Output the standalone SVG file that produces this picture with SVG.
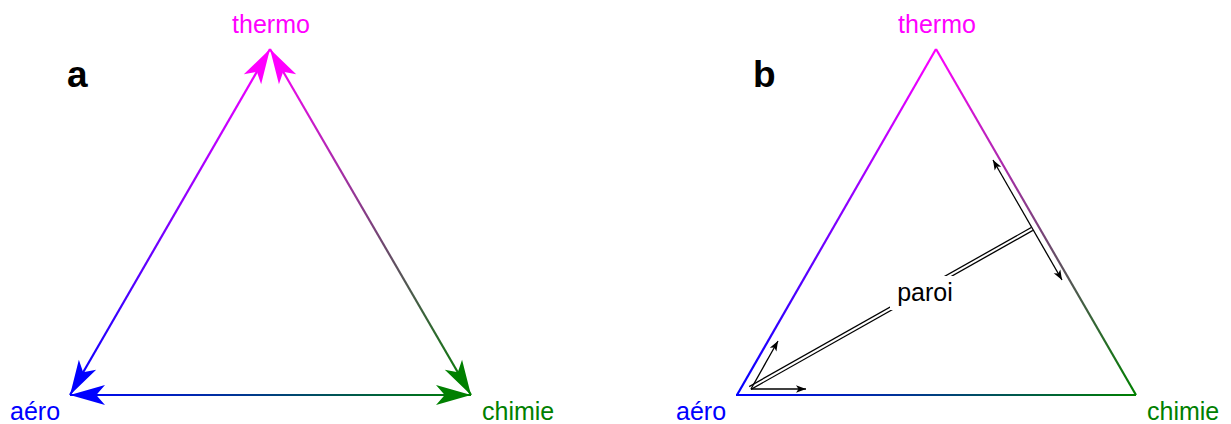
<svg xmlns="http://www.w3.org/2000/svg" width="1231" height="424" viewBox="0 0 1231 424">
<style>
text{font-family:"Liberation Sans",Arial,sans-serif;font-size:25px}
.panel{font-weight:bold;font-size:37px;fill:#000}
.th{fill:#ff00ff}.ae{fill:#0000ff}.ch{fill:#008000}
.edge{fill:none;stroke-width:2.2}
.thin{fill:none;stroke:#000;stroke-width:1.3}
</style>
<defs>
<marker id="hm" markerUnits="userSpaceOnUse" orient="auto-start-reverse" refX="0" refY="0" markerWidth="40" markerHeight="40" viewBox="-30 -15 32 30" overflow="visible"><path d="M0,0 L-28,-8 L-21,0 L-28,8 Z" fill="#ff00ff"/></marker>
<marker id="hb" markerUnits="userSpaceOnUse" orient="auto-start-reverse" refX="0" refY="0" markerWidth="40" markerHeight="40" viewBox="-30 -15 32 30" overflow="visible"><path d="M0,0 L-28,-8 L-21,0 L-28,8 Z" fill="#0000ff"/></marker>
<marker id="hg" markerUnits="userSpaceOnUse" orient="auto-start-reverse" refX="0" refY="0" markerWidth="40" markerHeight="40" viewBox="-30 -15 32 30" overflow="visible"><path d="M0,0 L-28,-8 L-21,0 L-28,8 Z" fill="#008000"/></marker>
<marker id="hk" markerUnits="userSpaceOnUse" orient="auto-start-reverse" refX="0" refY="0" markerWidth="14" markerHeight="14" viewBox="-12 -6 14 12" overflow="visible"><path d="M0,0 L-10,-3.8 L-7.5,0 L-10,3.8 Z" fill="#000"/></marker>
<linearGradient id="gaL" gradientUnits="userSpaceOnUse" x1="70" y1="395" x2="270" y2="49"><stop offset="0" stop-color="#0000ff"/><stop offset="1" stop-color="#ff00ff"/></linearGradient>
<linearGradient id="gaR" gradientUnits="userSpaceOnUse" x1="270" y1="49" x2="471" y2="395"><stop offset="0" stop-color="#ff00ff"/><stop offset="1" stop-color="#008000"/></linearGradient>
<linearGradient id="gaB" gradientUnits="userSpaceOnUse" x1="70" y1="395" x2="471" y2="395"><stop offset="0" stop-color="#0000ff"/><stop offset="1" stop-color="#008000"/></linearGradient>
<linearGradient id="gbL" gradientUnits="userSpaceOnUse" x1="737" y1="395" x2="936" y2="49"><stop offset="0" stop-color="#0000ff"/><stop offset="1" stop-color="#ff00ff"/></linearGradient>
<linearGradient id="gbR" gradientUnits="userSpaceOnUse" x1="936" y1="49" x2="1136" y2="395"><stop offset="0" stop-color="#ff00ff"/><stop offset="1" stop-color="#008000"/></linearGradient>
<linearGradient id="gbB" gradientUnits="userSpaceOnUse" x1="737" y1="395" x2="1136" y2="395"><stop offset="0" stop-color="#0000ff"/><stop offset="1" stop-color="#008000"/></linearGradient>
</defs>
<rect width="1231" height="424" fill="#fff"/>

<g id="panel-a">
<text class="panel" x="67" y="87">a</text>
<g id="connectors-a">
<line class="edge" x1="70" y1="395" x2="270" y2="49" stroke="url(#gaL)" marker-start="url(#hb)" marker-end="url(#hm)"/>
<line class="edge" x1="270" y1="49" x2="471" y2="395" stroke="url(#gaR)" marker-start="url(#hm)" marker-end="url(#hg)"/>
<line class="edge" x1="70" y1="395" x2="471" y2="395" stroke="url(#gaB)" marker-start="url(#hb)" marker-end="url(#hg)"/>
</g>
<g id="node-a-thermo"><text class="th" x="271" y="33" text-anchor="middle">thermo</text></g>
<g id="node-a-aero"><text class="ae" x="10" y="420">aéro</text></g>
<g id="node-a-chimie"><text class="ch" x="482" y="420">chimie</text></g>
</g>

<g id="panel-b">
<text class="panel" x="753" y="87">b</text>
<g id="triangle-b">
<line class="edge" x1="737" y1="395" x2="936" y2="49" stroke="url(#gbL)"/>
<line class="edge" x1="936" y1="49" x2="1136" y2="395" stroke="url(#gbR)"/>
<line class="edge" x1="736" y1="395" x2="1136" y2="395" stroke="url(#gbB)"/>
</g>
<g id="connectors-b">
<line x1="750" y1="388" x2="1032" y2="229" stroke="#000" stroke-width="4.6"/>
<line x1="749" y1="388.6" x2="1033" y2="228.4" stroke="#fff" stroke-width="2"/>
<line class="thin" x1="993" y1="160" x2="1062" y2="280" stroke="#222" marker-start="url(#hk)" marker-end="url(#hk)"/>
<line class="thin" x1="751" y1="389" x2="806" y2="389" marker-end="url(#hk)"/>
<line class="thin" x1="751" y1="389" x2="778" y2="341" marker-end="url(#hk)"/>
</g>
<g id="node-b-paroi">
<rect x="890" y="276" width="70" height="34" fill="#fff"/>
<text x="925" y="301" text-anchor="middle" fill="#000">paroi</text>
</g>
<g id="node-b-thermo"><text class="th" x="937" y="33" text-anchor="middle">thermo</text></g>
<g id="node-b-aero"><text class="ae" x="676" y="420">aéro</text></g>
<g id="node-b-chimie"><text class="ch" x="1147" y="420">chimie</text></g>
</g>
</svg>
